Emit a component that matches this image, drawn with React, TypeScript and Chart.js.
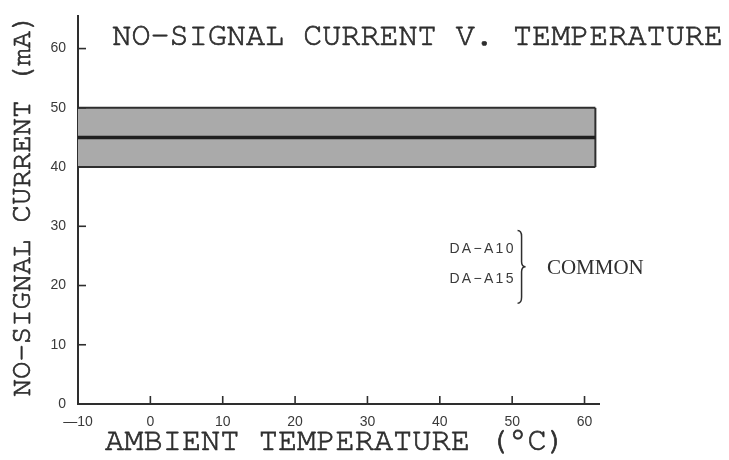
import { useEffect, useRef } from 'react';
import { Chart, registerables } from 'chart.js';

Chart.register(...registerables);

// ---- data ----
const tempRange = [-10, 61.5];
const bandUpper = [50, 50];
const bandLower = [40, 40];
const typicalCurrent = [45, 45];
const xTickValues = [-10, 0, 10, 20, 30, 40, 50, 60];
const yTickValues = [0, 10, 20, 30, 40, 50, 60];
const chartTitle = 'NO-SIGNAL CURRENT V. TEMPERATURE';
const xTitle = 'AMBIENT TEMPERATURE (\u00B0C)';
const yTitle = 'NO-SIGNAL CURRENT (mA)';
const modelNames = ['DA\u2212A10', 'DA\u2212A15'];
const modelLabelY = [26.2, 21.1];
const braceRange = [29.3, 17.0];
const braceX = 51.3;
const commonLabel = 'COMMON';
const commonPos = [54.8, 22.9];
const titlePos = [-5.25, 62.2];

const INK = '#2e2e2e';
const MONO = "'Nimbus Mono PS', 'Nimbus Mono L', FreeMono, 'Courier New', Courier, 'Liberation Mono', monospace";
const NARROW = "'Liberation Sans Narrow', 'Liberation Sans', Arial, sans-serif";

const pts = (ys: number[]) => tempRange.map((x, i) => ({ x, y: ys[i] }));

function heavyText(ctx: any, text: string, x: number, y: number) {
  ctx.fillText(text, x, y);
  ctx.strokeText(text, x, y);
}

const decorPlugin = {
  id: 'decor',
  afterDraw(chart: any) {
    const ctx = chart.ctx;
    const xs = chart.scales.x;
    const ys = chart.scales.y;
    const area = chart.chartArea;
    ctx.save();
    // inward tick marks
    ctx.strokeStyle = INK;
    ctx.lineWidth = 1.6;
    xTickValues.forEach((v) => {
      if (v === xs.min) return;
      const px = xs.getPixelForValue(v);
      ctx.beginPath();
      ctx.moveTo(px, area.bottom);
      ctx.lineTo(px, area.bottom - 8);
      ctx.stroke();
    });
    yTickValues.forEach((v) => {
      if (v === ys.min) return;
      const py = ys.getPixelForValue(v);
      ctx.beginPath();
      ctx.moveTo(area.left, py);
      ctx.lineTo(area.left + 8, py);
      ctx.stroke();
    });
    // big typewriter texts
    ctx.fillStyle = INK;
    ctx.strokeStyle = INK;
    ctx.lineWidth = 0.7;
    ctx.textBaseline = 'middle';
    ctx.font = `31.8px ${MONO}`;
    ctx.textAlign = 'left';
    heavyText(ctx, chartTitle, xs.getPixelForValue(titlePos[0]), ys.getPixelForValue(titlePos[1]));
    ctx.textAlign = 'center';
    ctx.font = `32px ${MONO}`;
    heavyText(ctx, xTitle, (area.left + area.right) / 2 - 3, area.bottom + 36);
    ctx.save();
    ctx.translate(21, (area.top + area.bottom) / 2 - 5);
    ctx.rotate(-Math.PI / 2);
    ctx.font = `29px ${MONO}`;
    heavyText(ctx, yTitle, 0, 0);
    ctx.restore();
    // model labels
    ctx.font = `14px ${NARROW}`;
    ctx.textAlign = 'right';
    ctx.fillStyle = '#3a3a3a';
    try { (ctx as any).letterSpacing = '2.3px'; } catch (e) {}
    modelNames.forEach((n, i) => {
      ctx.fillText(n, xs.getPixelForValue(50.5), ys.getPixelForValue(modelLabelY[i]));
    });
    try { (ctx as any).letterSpacing = '0px'; } catch (e) {}
    // brace
    const bx = xs.getPixelForValue(braceX);
    const bTop = ys.getPixelForValue(braceRange[0]);
    const bBot = ys.getPixelForValue(braceRange[1]);
    const bMid = (bTop + bBot) / 2;
    const w = 4;
    ctx.strokeStyle = INK;
    ctx.lineWidth = 1.5;
    ctx.beginPath();
    ctx.moveTo(bx - w, bTop);
    ctx.quadraticCurveTo(bx, bTop, bx, bTop + 6);
    ctx.lineTo(bx, bMid - 5);
    ctx.quadraticCurveTo(bx, bMid, bx + w, bMid);
    ctx.quadraticCurveTo(bx, bMid, bx, bMid + 5);
    ctx.lineTo(bx, bBot - 6);
    ctx.quadraticCurveTo(bx, bBot, bx - w, bBot);
    ctx.stroke();
    // common
    ctx.font = `21px 'Liberation Serif', 'DejaVu Serif', serif`;
    ctx.textAlign = 'left';
    ctx.fillStyle = INK;
    ctx.fillText(commonLabel, xs.getPixelForValue(commonPos[0]), ys.getPixelForValue(commonPos[1]));
    ctx.restore();
  },
};

export default function App() {
  const ref = useRef<HTMLCanvasElement | null>(null);
  useEffect(() => {
    if (!ref.current) return;
    const chart = new Chart(ref.current, {
      type: 'scatter',
      data: {
        datasets: [
          {
            label: 'typical',
            data: pts(typicalCurrent),
            showLine: true,
            borderColor: '#1f1f1f',
            borderWidth: 3.5,
            pointRadius: 0,
            fill: false,
          },
          {
            label: 'lower',
            data: pts(bandLower),
            showLine: true,
            borderColor: INK,
            borderWidth: 2,
            pointRadius: 0,
            fill: false,
          },
          {
            label: 'upper',
            data: pts(bandUpper),
            showLine: true,
            borderColor: INK,
            borderWidth: 2,
            pointRadius: 0,
            fill: '-1',
            backgroundColor: '#aaaaaa',
          },
          {
            label: 'edge',
            data: [
              { x: tempRange[1], y: bandLower[1] },
              { x: tempRange[1], y: bandUpper[1] },
            ],
            showLine: true,
            borderColor: INK,
            borderWidth: 2,
            pointRadius: 0,
            fill: false,
          },
        ],
      },
      options: {
        animation: false,
        responsive: true,
        maintainAspectRatio: false,
        layout: { padding: { left: 0, top: 16, right: 130, bottom: 0 } },
        plugins: {
          legend: { display: false },
          tooltip: { enabled: false },
          title: { display: false },
          filler: { drawTime: 'beforeDatasetsDraw' },
        },
        scales: {
          x: {
            type: 'linear',
            min: -10,
            max: 62,
            grid: { display: false, drawTicks: false, tickLength: 0 },
            border: { display: true, color: INK, width: 2 },
            afterBuildTicks: (s: any) => {
              s.ticks = xTickValues.map((v) => ({ value: v }));
            },
            afterFit: (s: any) => {
              s.height = 56;
              s.paddingLeft = 0;
              s.paddingRight = 0;
            },
            ticks: {
              color: '#3a3a3a',
              font: { family: NARROW, size: 14 },
              padding: 10,
              maxRotation: 0,
              autoSkip: false,
              callback: (v: any) => (v < 0 ? '\u2014' + Math.abs(v) : String(v)),
            },
            title: { display: false, text: xTitle },
          },
          y: {
            type: 'linear',
            min: 0,
            max: 65.5,
            grid: { display: false, drawTicks: false, tickLength: 0 },
            border: { display: true, color: INK, width: 2 },
            afterBuildTicks: (s: any) => {
              s.ticks = yTickValues.map((v) => ({ value: v }));
            },
            afterFit: (s: any) => {
              s.width = 78;
              s.paddingTop = 0;
              s.paddingBottom = 0;
            },
            ticks: {
              color: '#3a3a3a',
              font: { family: NARROW, size: 14 },
              padding: 12,
              autoSkip: false,
            },
            title: { display: false, text: yTitle },
          },
        },
      },
      plugins: [decorPlugin],
    });
    return () => chart.destroy();
  }, []);
  return (
    <div style={{ position: 'fixed', left: 0, top: 0, width: 729, height: 460, background: '#fff' }}>
      <canvas ref={ref} />
    </div>
  );
}
